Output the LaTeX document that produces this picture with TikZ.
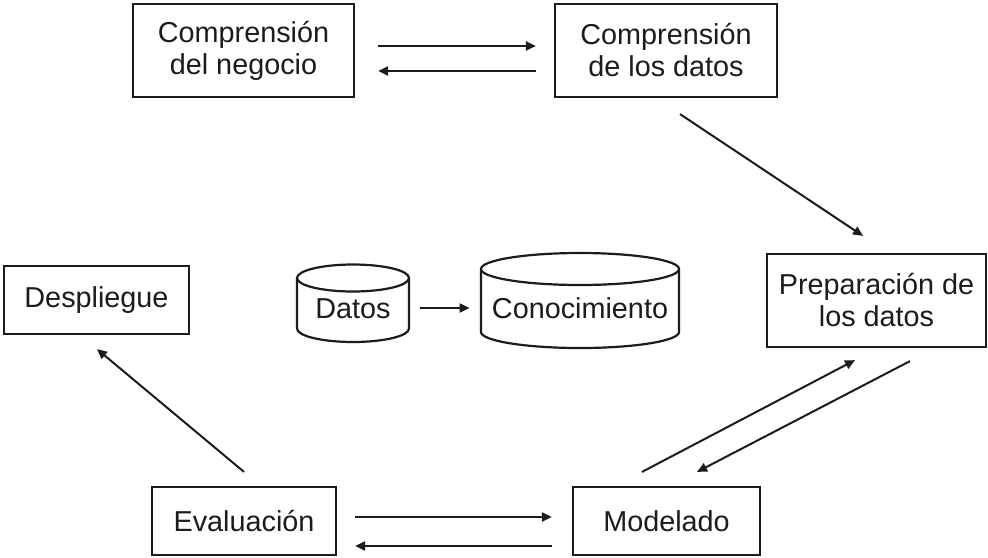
\documentclass[tikz,border=0pt]{standalone}
\usepackage{fontspec}
\setmainfont{Liberation Sans}
\usetikzlibrary{arrows.meta,calc}
\definecolor{ink}{RGB}{28,28,28}
\begin{document}
\begin{tikzpicture}[x=0.5pt,y=-0.5pt,
  phase/.style={draw=ink,line width=1.1pt,fill=white,inner sep=0pt,align=center,
    font=\fontsize{14.4}{16}\selectfont,text=ink},
  dbtext/.style={inner sep=0pt,font=\fontsize{14.4}{16}\selectfont,text=ink},
  flow/.style={draw=ink,line width=1pt,-{Triangle[length=5pt,width=4.5pt]}},
  drum/.style={draw=ink,line width=1.1pt,fill=white}]
\useasboundingbox (0,0) rectangle (988,557);

% process phases
\node[phase,minimum width=110.5pt,minimum height=46.5pt] (neg) at (243.5,50.5) {Comprensión\\del negocio};
\node[phase,minimum width=111pt,minimum height=46.5pt] (cd) at (666,50.5) {Comprensión\\de los datos};
\node[phase,minimum width=109.5pt,minimum height=46.5pt] (prep) at (876.5,300.5) {Preparación de\\los datos};
\node[phase,minimum width=92.5pt,minimum height=34pt] (desp) at (96.5,300) {Despliegue};
\node[phase,minimum width=92pt,minimum height=34pt] (eval) at (244,521) {Evaluación};
\node[phase,minimum width=93.5pt,minimum height=34pt] (mod) at (666.5,521) {Modelado};

% data stores
\path[drum] (297,278) -- (297,328.5) arc[start angle=180,end angle=360,x radius=28pt,y radius=6.75pt] -- (409,278);
\path[drum] (353,278) ellipse [x radius=28pt,y radius=6.75pt];
\path[drum] (481,269) -- (481,332) arc[start angle=180,end angle=360,x radius=49.5pt,y radius=8pt] -- (679,269);
\path[drum] (580,269) ellipse [x radius=49.5pt,y radius=8pt];
\node[dbtext,minimum width=56pt] (dat) at (353,309) {Datos};
\node[dbtext,minimum width=99pt] (con) at (580,308) {Conocimiento};

% flows between phases
\draw[flow] ($(neg.east)+(23,-4.5)$) -- ($(cd.west)+(-18,-4.5)$);
\draw[flow] ($(cd.west)+(-18,20.5)$) -- ($(neg.east)+(23,20.5)$);
\draw[flow] ($(cd.south)+(14,16)$) -- ($(prep.north)+(-13.5,-17)$);
\draw[flow] ($(mod.north)+(-24.5,-14)$) -- ($(prep.south)+(-21.5,12)$);
\draw[flow] ($(prep.south)+(33.5,13)$) -- ($(mod.north)+(30.5,-14)$);
\draw[flow] ($(eval.east)+(18,-4)$) -- ($(mod.west)+(-20,-4)$);
\draw[flow] ($(mod.west)+(-20,25)$) -- ($(eval.east)+(18,25)$);
\draw[flow] ($(eval.north)+(0,-14)$) -- ($(desp.south)+(0.5,14)$);
\draw[flow] ($(dat.east)+(11,-1)$) -- ($(con.west)+(-11,0)$);
\end{tikzpicture}
\end{document}
